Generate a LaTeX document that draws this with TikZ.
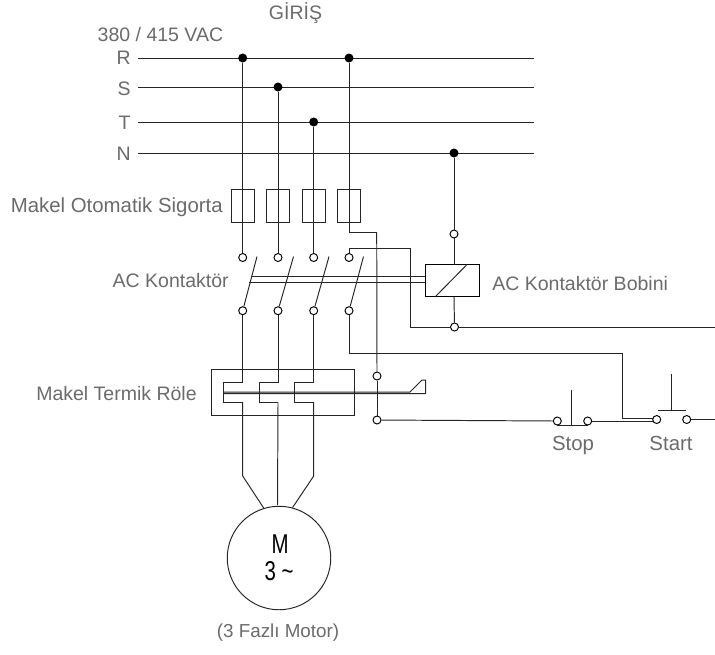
\documentclass[tikz,border=0pt]{standalone}
\usepackage{fontspec}
\setmainfont{Liberation Sans}
\usepackage{tikz}
\usetikzlibrary{calc}
\definecolor{labelgray}{gray}{0.42}
\def\drawwire{\draw[color=black!85, line width=0.55pt]}
\def\termnode{\node[circle,draw=black,fill=white,line width=0.55pt,inner sep=0pt,minimum size=0.16cm]}
\def\dotnode{\node[circle,fill=black,inner sep=0pt,minimum size=0.18cm]}
\def\fusenode{\node[rectangle,draw=black!85,line width=0.55pt,inner sep=0pt,minimum width=0.46cm,minimum height=0.66cm]}
\def\labelnode{\node[color=labelgray,font=\fontsize{11.1pt}{13pt}\selectfont,inner sep=0pt,anchor=base]}
\def\biglabelnode{\node[color=labelgray,font=\fontsize{11.6pt}{13pt}\selectfont,inner sep=0pt,anchor=base]}
\def\motornode{\node[color=black,font=\fontsize{15.5pt}{16pt}\selectfont,inner sep=0pt,anchor=base,xscale=0.75]}

\begin{document}
\begin{tikzpicture}[x=0.02cm,y=-0.02cm]
\useasboundingbox (0,0) rectangle (715,654);

% ---------- the four bus lines
\coordinate (Rl) at (138,58);
\coordinate (Rr) at (534,58);
\coordinate (Sl) at (138,87);
\coordinate (Sr) at (534,87);
\coordinate (Tl) at (138,122);
\coordinate (Tr) at (534,122);
\coordinate (Nl) at (138,153);
\coordinate (Nr) at (534,153);
\drawwire (Rl) to (Rr);
\drawwire (Sl) to (Sr);
\drawwire (Tl) to (Tr);
\drawwire (Nl) to (Nr);

\labelnode (input) at (295.5,19) {GİRİŞ};
\labelnode[anchor=base east] (volt) at (223.5,41.5) {380 / 415 VAC};
\labelnode[anchor=base east] (Rname) at (131,64) {R};
\labelnode[anchor=base east] (Sname) at (131,95) {S};
\labelnode[anchor=base east] (Tname) at (131,129) {T};
\labelnode[anchor=base east] (Nname) at (131,160) {N};

\dotnode (dot1) at (242.7,58) {};
\dotnode (dot2) at (278,87) {};
\dotnode (dot3) at (313.7,122) {};
\dotnode (dot4) at (349,58) {};
\dotnode (dotN) at (454,153) {};

% ---------- fuses
\fusenode (fuse1) at (242.7,205.5) {};
\fusenode (fuse2) at (278,205.5) {};
\fusenode (fuse3) at (313.7,205.5) {};
\fusenode (fuse4) at (349,205.5) {};
\biglabelnode[anchor=base east] (fusename) at (223,212) {Makel Otomatik Sigorta};

% ---------- contactor, top and bottom terminals
\termnode (top1) at (242.7,257.5) {};
\termnode (top2) at (278,257.5) {};
\termnode (top3) at (313.7,257.5) {};
\termnode (top4) at (349,257.5) {};
\termnode (bot1) at (242.7,310.7) {};
\termnode (bot2) at (278,310.7) {};
\termnode (bot3) at (313.7,310.7) {};
\termnode (bot4) at (349,310.7) {};
\drawwire (dot1) to (top1);
\drawwire (dot2) to (top2);
\drawwire (dot3) to (top3);
\coordinate (fuse4out) at (349,232.5);
\coordinate (fuse4turn) at (376.7,232.5);
\drawwire (dot4) to (fuse4out) to (fuse4turn);
\foreach \n/\x in {1/257,2/293.5,3/329,4/363.5} {
  \coordinate (blade\n) at (\x,256.5);
  \drawwire (bot\n) to (blade\n);
}
\labelnode[anchor=base east] (contname) at (229,287) {AC Kontaktör};

% ---------- coil
\node[rectangle,draw=black,fill=white,line width=0.55pt,inner sep=0pt,minimum width=1.08cm,minimum height=0.65cm] (coil) at (452,280.7) {};
\coordinate (slashb) at (435,297);
\coordinate (slasht) at (467,264.5);
\drawwire (slashb) to (slasht);
\coordinate (coiltop) at (454,264.5);
\coordinate (coilbot) at (454,297);
\termnode (coilin) at (454,234) {};
\termnode (coilout) at (454.5,327) {};
\drawwire (dotN) to (coilin);
\drawwire (coilin) to (coiltop);
\drawwire (coilbot) to (coilout);
\labelnode[anchor=base west] (coilname) at (492,290) {AC Kontaktör Bobini};

% the line across the contacts to the coil
\coordinate (mech1a) at (252,276);
\coordinate (mech1b) at (425,276);
\coordinate (mech2a) at (249,282.5);
\coordinate (mech2b) at (425,282.5);
\drawwire (mech1a) to (mech1b);
\drawwire (mech2a) to (mech2b);

% auxiliary contact to the coil
\coordinate (auxtop) at (349,248);
\coordinate (auxturn) at (410.5,248);
\coordinate (auxlow) at (410.5,327);
\coordinate (outr) at (715,327);
\drawwire (top4) to (auxtop) to (auxturn) to (auxlow) to (coilout);
\drawwire (coilout) to (outr);

% ---------- thermal relay
\node[rectangle,draw=black!85,line width=0.55pt,inner sep=0pt,minimum width=2.86cm,minimum height=0.92cm] (relay) at (283,392.3) {};
\labelnode[anchor=base east] (relayname) at (197,400) {Makel Termik Röle};
\foreach \n/\x/\l in {1/242.7/223.3,2/278/259,3/313.7/294.5} {
  \coordinate (in\n) at (\x,382);
  \coordinate (inl\n) at (\l,382);
  \coordinate (outl\n) at (\l,402.3);
  \coordinate (out\n) at (\x,402.3);
  \drawwire (bot\n) to (in\n) to (inl\n) to (outl\n) to (out\n);
}
% bimetal bar and its hook
\coordinate (bar1a) at (223.5,392);
\coordinate (bar1b) at (410,392);
\coordinate (bar2a) at (223.5,393.5);
\coordinate (hookt) at (422,380);
\coordinate (hookr) at (425.7,380);
\coordinate (hookb) at (425.7,393.5);
\drawwire (bar1a) to (bar1b) to (hookt) to (hookr) to (hookb) to (bar2a);

% ---------- motor
\node[circle,draw=black!85,line width=0.55pt,inner sep=0pt,minimum size=2.07cm] (motor) at (279,558) {};
\motornode (motorM) at (280,553) {M};
\motornode (motor3) at (279,580) {3 \textasciitilde};
\labelnode[font=\fontsize{10.7pt}{13pt}\selectfont] (motorname) at (278,637.5) {(3 Fazlı Motor)};
\coordinate (bend1) at (242.7,476);
\coordinate (bend3) at (313.7,476);
\coordinate (motorin) at (277.5,505);
\drawwire (out1) to (bend1) to (motor.107);
\drawwire (out2) to (motorin);
\drawwire (out3) to (bend3) to (motor.75);

% ---------- control circuit
\termnode (aux1) at (377,376) {};
\termnode (aux2) at (377,420) {};
\drawwire (fuse4turn) to (aux1);
\drawwire (aux1) to (aux2);
\termnode (stopl) at (557.3,421) {};
\termnode (stopr) at (587.7,421) {};
\termnode (startl) at (656.7,419.5) {};
\termnode (startr) at (686.7,419.5) {};
\drawwire (aux2) to (stopl);
\coordinate (startin) at (652.7,421);
\drawwire (stopr) to (startin);
\coordinate (endr) at (715,419.5);
\drawwire (startr) to (endr);

\coordinate (botturn) at (349,353);
\coordinate (rightturn) at (622,353);
\coordinate (downturn) at (622,418.5);
\coordinate (startin2) at (652.7,418.5);
\drawwire (bot4) to (botturn) to (rightturn) to (downturn) to (startin2);

% push buttons
\coordinate (stopbarl) at (557,425);
\coordinate (stopbarr) at (588,425);
\coordinate (stopstem) at (571.7,390);
\coordinate (stopfoot) at (571.7,425);
\drawwire (stopbarl) to (stopbarr);
\drawwire (stopstem) to (stopfoot);
\coordinate (startbarl) at (658,410);
\coordinate (startbarr) at (686,410);
\coordinate (startstem) at (671.7,374);
\coordinate (startfoot) at (671.7,410);
\drawwire (startbarl) to (startbarr);
\drawwire (startstem) to (startfoot);
\biglabelnode (stopname) at (573,450) {Stop};
\biglabelnode (startname) at (671,450) {Start};
\end{tikzpicture}
\end{document}
